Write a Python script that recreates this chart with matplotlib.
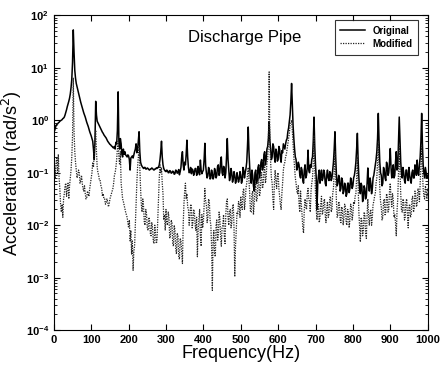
import numpy as np
import matplotlib
matplotlib.use("Agg")
import matplotlib.pyplot as plt

plt.rcParams['font.family'] = ['Liberation Sans', 'DejaVu Sans']

# spectra sampled every 2 Hz, stored as log10 of acceleration (rad/s^2)
freq = np.arange(0, 1001, 2)

orig_log = [
    -0.10, -0.20, -0.15, -0.10, -0.08, -0.07, -0.05, -0.04, -0.02, -0.01,
    0.00, 0.01, 0.03, 0.04, 0.06, 0.10, 0.15, 0.20, 0.26, 0.31,
    0.36, 0.42, 0.50, 0.62, 0.78, 1.10, 1.72, 1.30, 0.95, 0.80,
    0.70, 0.64, 0.58, 0.52, 0.46, 0.40, 0.34, 0.29, 0.24, 0.19,
    0.14, 0.10, 0.06, 0.01, -0.04, -0.08, -0.12, -0.17, -0.22, -0.26,
    -0.30, -0.35, -0.40, -0.55, -0.75, -0.40, 0.36, 0.10, -0.02, -0.05,
    -0.08, -0.11, -0.14, -0.17, -0.20, -0.23, -0.25, -0.28, -0.30, -0.32,
    -0.34, -0.37, -0.40, -0.42, -0.44, -0.46, -0.47, -0.49, -0.50, -0.52,
    -0.53, -0.50, -0.55, -0.42, -0.45, -0.20, 0.54, -0.40, -0.55, -0.35,
    -0.45, -0.65, -0.70, -0.55, -0.65, -0.60, -0.66, -0.68, -0.70, -0.66,
    -0.68, -0.75, -0.95, -0.72, -0.70, -0.68, -0.72, -0.66, -0.60, -0.55,
    -0.45, -0.62, -0.55, -0.40, -0.22, -0.60, -0.80, -0.85, -0.88, -0.90,
    -0.92, -0.90, -0.90, -0.93, -0.93, -0.91, -0.92, -0.94, -0.95, -0.93,
    -0.93, -0.91, -0.92, -0.94, -0.95, -0.93, -0.93, -0.91, -0.92, -0.90,
    -0.90, -0.85, -0.75, -0.60, -0.40, -0.70, -0.85, -0.92, -0.95, -0.97,
    -0.98, -0.95, -0.96, -1.00, -1.00, -0.96, -0.97, -1.01, -1.00, -0.97,
    -0.98, -1.03, -1.02, -0.95, -0.96, -1.01, -1.00, -0.94, -1.04, -0.98,
    -0.90, -0.70, -0.60, -0.85, -0.95, -0.80, -0.85, -0.65, -0.38, -0.70,
    -0.90, -1.00, -0.98, -0.90, -1.02, -0.93, -0.95, -1.05, -1.00, -0.92,
    -0.92, -1.05, -1.03, -0.88, -0.98, -1.04, -0.76, -0.95, -1.02, -0.98,
    -0.95, -0.75, -0.44, -0.85, -1.00, -1.10, -1.06, -0.90, -0.95, -1.12,
    -1.10, -0.95, -1.02, -1.12, -1.08, -0.92, -0.98, -1.10, -1.05, -0.88,
    -0.85, -1.05, -1.00, -0.80, -0.70, -1.00, -1.05, -0.88, -0.90, -1.10,
    -1.00, -0.70, -0.35, -0.75, -0.95, -1.15, -1.08, -0.92, -1.00, -1.18,
    -1.12, -0.98, -1.05, -1.20, -1.15, -1.00, -1.08, -1.18, -1.12, -0.98,
    -1.05, -1.20, -1.15, -0.90, -0.95, -1.10, -1.00, -0.92, -0.80, -0.50,
    -0.13, -0.60, -0.90, -1.10, -1.20, -0.95, -1.05, -1.25, -1.35, -1.00,
    -0.95, -1.20, -1.15, -0.90, -0.85, -1.10, -1.00, -0.80, -0.75, -0.95,
    -0.90, -0.65, -0.60, -0.85, -0.75, -0.55, -0.50, -0.35, -0.03, -0.40,
    -0.55, -0.75, -0.70, -0.45, -0.50, -0.70, -0.80, -0.55, -0.60, -0.78,
    -0.75, -0.50, -0.55, -0.72, -0.80, -0.58, -0.62, -0.45, -0.50, -0.55,
    -0.45, -0.38, -0.35, -0.22, -0.15, -0.02, 0.10, 0.35, 0.70, 0.30,
    -0.10, -0.35, -0.55, -0.70, -0.75, -0.95, -0.90, -0.80, -0.85, -1.05,
    -1.10, -0.90, -0.95, -1.15, -1.20, -0.95, -0.85, -1.10, -1.05, -0.90,
    -0.57, -0.95, -1.00, -0.85, -0.90, -0.75, -0.70, -0.40, 0.06, -0.50,
    -0.85, -1.10, -1.70, -1.20, -1.05, -0.95, -1.20, -1.05, -0.95, -1.15,
    -1.10, -0.95, -1.00, -1.20, -1.25, -1.05, -0.95, -1.10, -1.15, -0.98,
    -1.00, -1.15, -1.10, -0.95, -0.80, -0.55, -0.22, -0.70, -1.05, -1.25,
    -1.20, -1.05, -1.10, -1.35, -1.30, -1.10, -1.15, -1.40, -1.35, -1.20,
    -1.25, -1.45, -1.40, -1.20, -1.20, -1.38, -1.30, -1.10, -1.15, -1.30,
    -1.25, -1.10, -1.05, -0.95, -0.80, -0.55, -0.25, -0.75, -1.10, -1.30,
    -1.40, -1.20, -1.25, -1.55, -1.50, -1.25, -1.30, -1.50, -1.45, -1.20,
    -0.91, -1.20, -1.35, -1.10, -1.20, -1.40, -1.30, -1.10, -1.05, -0.95,
    -0.85, -0.75, -0.60, -0.35, 0.13, -0.40, -0.80, -1.00, -1.05, -1.25,
    -1.20, -0.90, -0.95, -1.10, -1.15, -0.80, -0.85, -1.05, -1.00, -0.80,
    -0.54, -0.90, -1.10, -0.95, -0.85, -1.10, -1.05, -0.80, -0.60, -0.95,
    -0.90, -0.45, 0.06, -0.40, -0.80, -1.00, -1.10, -0.90, -1.00, -1.15,
    -1.20, -0.95, -0.95, -1.10, -1.15, -0.90, -1.05, -1.15, -1.20, -1.00,
    -0.95, -1.10, -1.10, -0.85, -0.90, -1.05, -0.76, -1.00, -1.05, -0.85,
    -0.70, -0.40, 0.13, -0.45, -0.85, -1.00, -1.10, -0.90, -1.00, -1.10,
    -1.05,
]

mod_log = [
    -1.00, -0.85, -1.10, -0.80, -0.70, -1.00, -0.65, -1.10, -1.30, -1.60,
    -1.75, -1.60, -1.85, -1.50, -1.40, -1.25, -1.20, -1.45, -1.30, -1.20,
    -1.50, -1.25, -1.10, -0.95, -0.70, -0.30, 0.80, -0.20, -0.60, -0.80,
    -0.95, -1.10, -1.05, -0.95, -1.00, -1.20, -1.15, -1.05, -1.20, -1.30,
    -1.35, -1.25, -1.40, -1.50, -1.48, -1.35, -1.40, -1.45, -1.30, -1.20,
    -1.10, -1.00, -0.80, -0.90, -0.60, -0.35, -0.19, -0.60, -0.90, -1.00,
    -1.05, -1.15, -1.15, -1.25, -1.30, -1.45, -1.40, -1.50, -1.50, -1.60,
    -1.58, -1.50, -1.55, -1.65, -1.60, -1.50, -1.45, -1.40, -1.35, -1.30,
    -1.20, -1.05, -1.00, -0.90, -0.75, -0.55, -0.40, -0.70, -0.85, -0.60,
    -1.20, -1.35, -1.50, -1.55, -1.62, -1.70, -1.75, -1.80, -1.85, -1.95,
    -2.05, -1.90, -2.30, -2.10, -2.55, -2.30, -2.86, -2.50, -2.40, -2.00,
    -1.60, -1.20, -0.90, -0.70, -0.50, -0.90, -1.30, -1.60, -1.75, -1.50,
    -1.65, -1.95, -2.00, -1.70, -1.80, -2.05, -2.10, -1.85, -1.90, -2.15,
    -2.20, -1.95, -2.05, -2.30, -2.35, -2.00, -2.15, -2.35, -2.30, -1.90,
    -1.50, -1.10, -0.85, -1.00, -0.90, -1.20, -1.40, -1.90, -1.80, -2.10,
    -1.70, -1.95, -2.00, -1.75, -1.85, -2.25, -2.20, -1.90, -1.95, -2.35,
    -2.40, -2.00, -2.10, -2.45, -2.55, -2.15, -2.20, -2.60, -2.65, -2.25,
    -2.30, -2.50, -2.73, -2.00, -1.60, -1.35, -1.20, -1.50, -1.40, -1.65,
    -1.70, -2.00, -1.85, -1.60, -1.65, -2.05, -1.95, -1.70, -1.75, -2.00,
    -2.10, -1.85, -2.60, -2.10, -1.90, -1.70, -2.20, -2.40, -1.80, -2.05,
    -1.95, -1.60, -1.30, -1.55, -1.60, -1.95, -1.85, -1.50, -1.55, -1.90,
    -2.00, -2.40, -3.24, -2.30, -2.10, -2.55, -2.60, -2.00, -1.90, -2.30,
    -2.20, -1.75, -1.85, -2.20, -2.40, -2.05, -2.00, -1.80, -2.20, -2.35,
    -1.80, -1.55, -1.50, -1.85, -2.00, -1.75, -1.70, -2.05, -1.95, -1.65,
    -1.60, -2.05, -2.98, -2.40, -2.10, -1.75, -1.80, -1.55, -1.60, -1.85,
    -1.45, -1.65, -1.70, -1.35, -1.30, -1.70, -1.55, -1.30, -1.20, -1.05,
    -0.90, -1.15, -1.40, -1.75, -1.75, -1.40, -1.35, -1.80, -1.60, -1.30,
    -1.20, -1.55, -1.50, -1.15, -1.10, -1.45, -1.40, -1.05, -1.00, -1.30,
    -1.25, -0.95, -0.85, -1.20, -1.10, -0.80, -0.75, -0.40, 0.92, -0.50,
    -0.80, -1.10, -1.20, -1.50, -1.70, -1.20, -0.95, -1.15, -1.30, -1.05,
    -1.00, -1.30, -1.45, -1.60, -1.70, -1.40, -1.20, -0.95, -0.85, -0.80,
    -0.70, -0.65, -0.55, -0.45, -0.35, -0.25, -0.10, -0.05, 0.00, -0.20,
    -0.45, -0.70, -0.90, -1.10, -1.20, -1.35, -1.40, -1.25, -1.60, -1.75,
    -1.35, -1.60, -1.80, -2.05, -2.15, -1.70, -1.50, -1.65, -1.70, -1.40,
    -1.30, -1.50, -1.55, -1.75, -1.35, -1.20, -1.10, -0.80, -0.30, -0.90,
    -1.40, -1.70, -1.90, -1.65, -1.60, -1.95, -1.85, -1.60, -1.45, -1.80,
    -1.75, -1.55, -1.50, -1.80, -1.95, -1.70, -1.55, -1.85, -1.80, -1.50,
    -1.45, -1.75, -1.70, -1.40, -1.30, -1.00, -0.60, -1.10, -1.55, -1.85,
    -1.80, -1.55, -1.60, -1.90, -1.95, -1.65, -1.70, -2.00, -1.85, -1.60,
    -1.65, -1.95, -2.00, -1.70, -1.75, -2.05, -1.90, -1.60, -1.65, -1.90,
    -1.80, -1.55, -1.60, -1.45, -1.40, -1.10, -0.70, -1.20, -1.75, -2.05,
    -2.32, -1.85, -1.90, -2.20, -2.10, -1.75, -1.80, -2.15, -2.25, -1.80,
    -1.50, -1.85, -2.00, -1.75, -1.70, -2.00, -1.85, -1.60, -1.55, -1.45,
    -1.40, -1.20, -1.10, -0.80, -0.40, -0.90, -1.30, -1.55, -1.65, -1.90,
    -1.85, -1.55, -1.50, -1.80, -1.75, -1.40, -1.45, -1.75, -1.70, -1.35,
    -1.20, -1.50, -1.65, -1.40, -1.50, -1.85, -1.80, -1.95, -2.20, -1.75,
    -1.50, -1.00, -0.50, -0.95, -1.40, -1.70, -1.75, -1.50, -1.55, -1.90,
    -1.85, -1.55, -1.50, -1.80, -2.05, -1.65, -1.60, -1.85, -1.80, -1.50,
    -1.45, -1.75, -1.70, -1.35, -1.40, -1.65, -1.60, -1.30, -1.35, -1.55,
    -1.20, -0.90, -0.50, -0.95, -1.30, -1.45, -1.50, -1.25, -1.35, -1.50,
    -1.30,
]

original = 10.0 ** np.array(orig_log)
modified = 10.0 ** np.array(mod_log)

fig = plt.figure(figsize=(4.45, 3.71), dpi=100)
ax = fig.add_axes([0.121, 0.110, 0.840, 0.849])

ax.semilogy(freq, original, color='black', linestyle='-', linewidth=1.1, label='Original')
ax.semilogy(freq, modified, color='#222222', linestyle=(0, (1, 1)), linewidth=0.9,
            label='Modified')

ax.set_xlim(0, 1000)
ax.set_ylim(1e-4, 1e2)
ax.set_xticks(np.arange(0, 1001, 100))
ax.set_yticks([1e-4, 1e-3, 1e-2, 1e-1, 1e0, 1e1, 1e2])
ax.tick_params(which='both', direction='in', top=True, right=True, labelsize=8)
ax.tick_params(which='major', length=4)
ax.tick_params(which='minor', length=2)
for lab in ax.get_xticklabels() + ax.get_yticklabels():
    lab.set_fontweight('bold')

ax.set_xlabel('Frequency(Hz)', fontsize=13, labelpad=0)
ax.set_ylabel('Acceleration (rad/s$^2$)', fontsize=13, labelpad=1)
ax.text(0.51, 0.93, 'Discharge Pipe', transform=ax.transAxes, ha='center', va='center',
        fontsize=12)

leg = ax.legend(loc='upper right', bbox_to_anchor=(0.975, 0.985), fontsize=7,
                frameon=True, fancybox=False, edgecolor='black', handlelength=2.5,
                borderpad=0.6, labelspacing=0.3, borderaxespad=0.0)
leg.get_frame().set_linewidth(0.8)
for t in leg.get_texts():
    t.set_fontweight('bold')

fig.savefig('out.png', dpi=100)
